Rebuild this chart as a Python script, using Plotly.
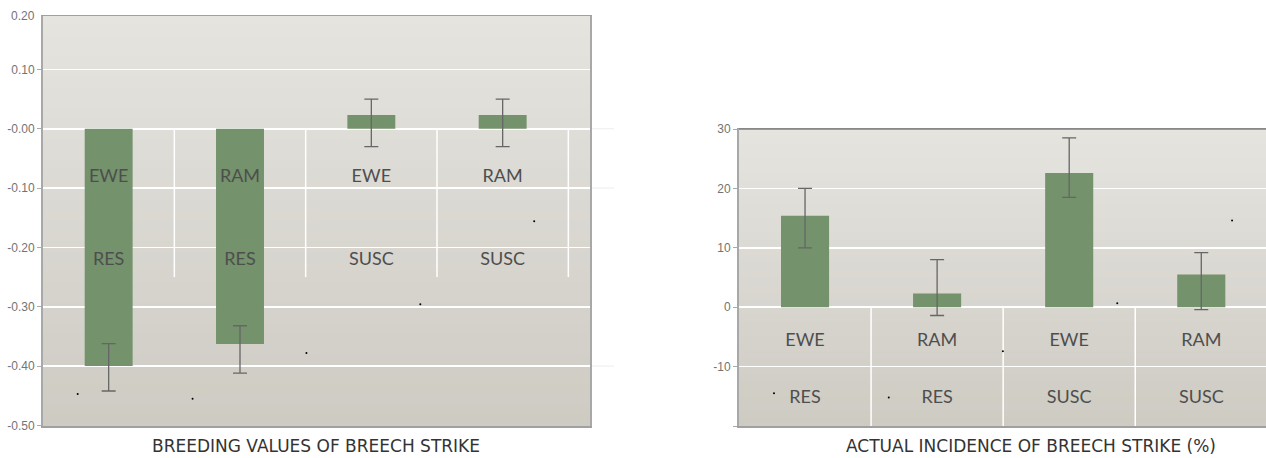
import plotly.graph_objects as go

# ---------------- data ----------------
groups = ["EWE", "RAM", "EWE", "RAM"]
status = ["RES", "RES", "SUSC", "SUSC"]

bv_values = [-0.400, -0.363, 0.023, 0.023]
bv_err_plus = [0.038, 0.031, 0.027, 0.027]
bv_err_minus = [0.042, 0.049, 0.053, 0.053]

inc_values = [15.4, 2.3, 22.6, 5.5]
inc_err_plus = [4.6, 5.7, 5.9, 3.7]
inc_err_minus = [5.4, 3.7, 4.1, 5.9]

bv_dots_x = [-0.236, 0.639, 1.506, 2.373, 3.240]
bv_dots_y = [-0.447, -0.455, -0.378, -0.296, -0.156]
inc_dots_x = [-0.235, 0.634, 1.498, 2.364, 3.233]
inc_dots_y = [-14.5, -15.2, -7.4, 0.67, 14.6]

bv_ticks = [-0.5, -0.4, -0.3, -0.2, -0.1, 0.0, 0.1]
bv_ticktext = ["-0.50", "-0.40", "-0.30", "-0.20", "-0.10", "-0.00", "0.10"]
inc_ticks = [-20, -10, 0, 10, 20, 30]
inc_ticktext = ["", "-10", "0", "10", "20", "30"]

title_left = "BREEDING VALUES OF BREECH STRIKE"
title_right = "ACTUAL INCIDENCE OF BREECH STRIKE (%)"

# ---------------- style ----------------
W, H = 1266, 458
BAR = "#74926b"
ERR = "#666666"
TICKC = "#737373"
LABC = "#4e4e4e"
LABFONT = "Lato"
LABSIZE = 18

idx = list(range(len(groups)))

fig = go.Figure()

# left chart
fig.add_trace(go.Bar(x=idx, y=bv_values, width=0.365, marker=dict(color=BAR, line=dict(width=0)),
                     error_y=dict(type="data", symmetric=False, array=bv_err_plus, arrayminus=bv_err_minus,
                                  color=ERR, thickness=1.3, width=7),
                     xaxis="x", yaxis="y", showlegend=False, hoverinfo="skip"))
fig.add_trace(go.Scatter(x=idx, y=[-0.083] * 4, mode="text", text=groups,
                         textfont=dict(family=LABFONT, size=LABSIZE, color=LABC),
                         xaxis="x", yaxis="y", showlegend=False, hoverinfo="skip"))
fig.add_trace(go.Scatter(x=idx, y=[-0.222] * 4, mode="text", text=status,
                         textfont=dict(family=LABFONT, size=LABSIZE, color=LABC),
                         xaxis="x", yaxis="y", showlegend=False, hoverinfo="skip"))
fig.add_trace(go.Scatter(x=bv_dots_x, y=bv_dots_y, mode="markers",
                         marker=dict(color="black", size=2, line=dict(width=0)),
                         xaxis="x", yaxis="y", showlegend=False, hoverinfo="skip"))

# right chart
fig.add_trace(go.Bar(x=idx, y=inc_values, width=0.364, marker=dict(color=BAR, line=dict(width=0)),
                     error_y=dict(type="data", symmetric=False, array=inc_err_plus, arrayminus=inc_err_minus,
                                  color=ERR, thickness=1.3, width=7),
                     xaxis="x2", yaxis="y2", showlegend=False, hoverinfo="skip"))
fig.add_trace(go.Scatter(x=idx, y=[-5.8] * 4, mode="text", text=groups,
                         textfont=dict(family=LABFONT, size=LABSIZE, color=LABC),
                         xaxis="x2", yaxis="y2", showlegend=False, hoverinfo="skip"))
fig.add_trace(go.Scatter(x=idx, y=[-15.3] * 4, mode="text", text=status,
                         textfont=dict(family=LABFONT, size=LABSIZE, color=LABC),
                         xaxis="x2", yaxis="y2", showlegend=False, hoverinfo="skip"))
fig.add_trace(go.Scatter(x=inc_dots_x, y=inc_dots_y, mode="markers",
                         marker=dict(color="black", size=2, line=dict(width=0)),
                         xaxis="x2", yaxis="y2", showlegend=False, hoverinfo="skip"))

# gradient backgrounds
def lerp(c1, c2, t):
    a = [int(c1[i:i + 2], 16) for i in (1, 3, 5)]
    b = [int(c2[i:i + 2], 16) for i in (1, 3, 5)]
    return "rgb(%d,%d,%d)" % tuple(round(a[k] + (b[k] - a[k]) * t) for k in range(3))

shapes = []
N = 40
for xr, yr in (("x", "y"), ("x2", "y2")):
    for i in range(N):
        shapes.append(dict(type="rect", xref=xr + " domain", yref=yr + " domain",
                           x0=0, x1=1, y0=1 - (i + 1) / N, y1=1 - i / N + 0.002,
                           fillcolor=lerp("#e5e4df", "#cecbc3", (i + 0.5) / N),
                           line=dict(width=0), layer="below"))

# divider lines (table-like category axis)
for k in range(len(groups)):
    shapes.append(dict(type="line", xref="x", yref="y", x0=k + 0.5, x1=k + 0.5, y0=0, y1=-0.25,
                       line=dict(color="white", width=1.5), layer="below"))
for k in range(len(groups) - 1):
    shapes.append(dict(type="line", xref="x2", yref="y2", x0=k + 0.5, x1=k + 0.5, y0=0, y1=-20,
                       line=dict(color="white", width=1.5), layer="below"))

# faint continuation of some gridlines to the right of the left chart
for yv in (0.0, -0.1, -0.4):
    shapes.append(dict(type="line", xref="paper", yref="y", x0=590 / W, x1=614 / W, y0=yv, y1=yv,
                       line=dict(color="#f0f0ee", width=1.2), layer="below"))

axis_common = dict(showgrid=False, zeroline=False, showticklabels=False, ticks="", fixedrange=True,
                   automargin=False)

fig.update_layout(
    width=W, height=H,
    margin=dict(l=0, r=0, t=0, b=0, autoexpand=False),
    paper_bgcolor="white",
    plot_bgcolor="#dcdad4",
    shapes=shapes,
    xaxis=dict(domain=[43 / W, 590 / W], range=[-0.5, 3.665], anchor="y",
               showline=True, linecolor="#a0a0a0", linewidth=1.5, mirror=True, **axis_common),
    yaxis=dict(domain=[1 - 426 / H, 1 - 16 / H], range=[-0.501, 0.190], anchor="x",
               tickvals=bv_ticks, ticktext=bv_ticktext, ticks="outside", ticklen=4, tickcolor="#aaaaaa",
               tickfont=dict(family="Liberation Sans", size=12, color=TICKC), automargin=False,
               showgrid=True, gridcolor="white", gridwidth=1.6, zeroline=False,
               showline=True, linecolor="#a8a8a8", linewidth=2, mirror=True, fixedrange=True),
    xaxis2=dict(domain=[739 / W, 1], range=[-0.5, 3.49], anchor="y2",
                showline=True, linecolor="#a0a0a0", linewidth=1.5, mirror=True, **axis_common),
    yaxis2=dict(domain=[1 - 426 / H, 1 - 129 / H], range=[-20, 30], anchor="x2",
                tickvals=inc_ticks, ticktext=inc_ticktext, ticks="outside", ticklen=4, tickcolor="#aaaaaa",
                tickfont=dict(family="Liberation Sans", size=12, color=TICKC), automargin=False,
                showgrid=True, gridcolor="white", gridwidth=1.6, zeroline=False,
                showline=True, linecolor="#a8a8a8", linewidth=2, mirror=False, fixedrange=True),
    annotations=[
        dict(text="0.20", xref="paper", yref="y domain", x=37 / W, y=1, xanchor="right", yanchor="middle",
             showarrow=False, font=dict(family="Liberation Sans", size=12, color=TICKC)),
        dict(text=title_left, xref="paper", yref="paper", x=316 / W, y=1 - 446 / H,
             xanchor="center", yanchor="middle", showarrow=False,
             font=dict(family="DejaVu Sans", size=17, color="#333333")),
        dict(text=title_right, xref="paper", yref="paper", x=1031 / W, y=1 - 446 / H,
             xanchor="center", yanchor="middle", showarrow=False,
             font=dict(family="DejaVu Sans", size=17, color="#333333")),
    ],
)
# top border of right chart
fig.add_shape(type="line", xref="x2 domain", yref="y2 domain", x0=0, x1=1, y0=1, y1=1,
              line=dict(color="#808080", width=1.5), layer="above")

fig.write_html("out.html", config={"displayModeBar": False, "staticPlot": True},
               post_script="document.body.style.margin='0';document.body.style.overflow='hidden';")
